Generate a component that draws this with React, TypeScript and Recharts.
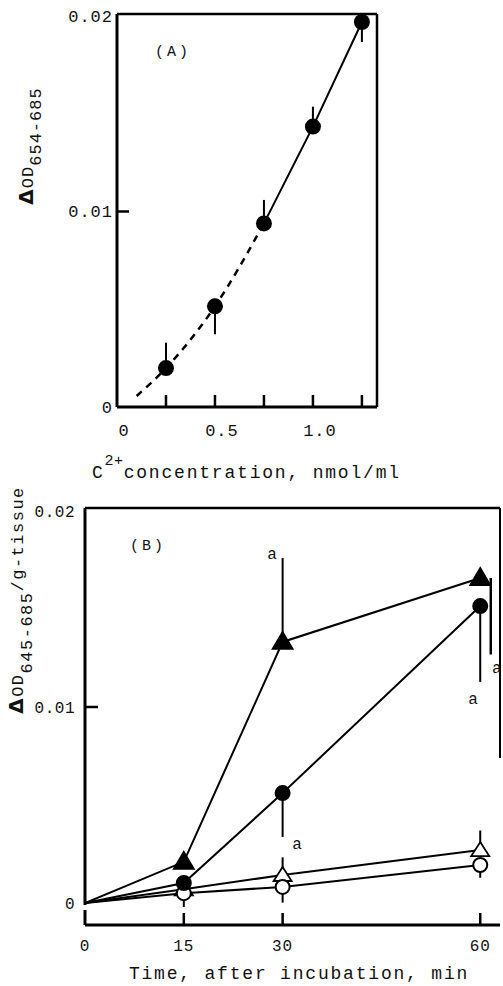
import React from 'react';
import { ComposedChart, Line, Scatter, XAxis, YAxis, ErrorBar, ReferenceLine, Label } from 'recharts';

const MONO = '"Liberation Mono", "DejaVu Sans Mono", monospace';
const INK = '#111';

// ---- panel (A): ΔOD vs concentration ----
const concA = [0.25, 0.5, 0.75, 1.0, 1.25];
const odA = [0.00199, 0.00515, 0.00939, 0.01434, 0.01969];
const errA = [[0, 0.0013], [0.00143, 0], [0, 0.0012], [0, 0.00102], [0.00102, 0]];
const fitStartA = { x: 0.1, y: 0.00056 };
const xTicksA = [0, 0.25, 0.5, 0.75, 1.0, 1.25];
const xTickLabelsA = ['0', '', '0.5', '', '1.0', ''];
const yTicksA = [0, 0.01, 0.02];
const yTickLabelsA = ['0', '0.01', '0.02'];

// ---- panel (B): ΔOD per g tissue vs time ----
const timeB = [0, 15, 30, 60];
const filledTri = [0, 0.0021, 0.01332, 0.01658];
const filledTriErr = [[0, 0], [0, 0], [0, 0.00428], [0, 0]];
const filledCirc = [0, 0.00102, 0.00561, 0.01515];
const filledCircErr = [[0, 0], [0, 0], [0.00224, 0], [0.00387, 0]];
const openTri = [0, 0.0007, 0.00143, 0.0027];
const openTriErr = [[0, 0], [0, 0], [0, 0.0009], [0, 0.001]];
const openCirc = [0, 0.0005, 0.00082, 0.00194];
const openCircErr = [[0, 0], [0.0007, 0], [0.0008, 0], [0.00065, 0]];
// error bar of the 60 min filled triangle, drawn beside the point
const filledTri60Err = [{ x: 61.6, y: 0.01658, err: [0.0039, 0] }];
const sigMarksB = [
  { x: 28.4, y: 0.01786, t: 'a' },
  { x: 32.2, y: 0.00306, t: 'a' },
  { x: 58.9, y: 0.01046, t: 'a' },
  { x: 62.5, y: 0.012, t: 'a' },
];
const xTicksB = [0, 15, 30, 60];
const yTicksB = [0, 0.01, 0.02];
const yTickLabelsB = ['0', '0.01', '0.02'];

const Y_MAX_A = 0.0201;
const X_MAX_A = 1.327;
const Y_MIN_B = -0.001122;
const Y_MAX_B = 0.020153;
const X_MAX_B = 63;

const rows = (xs: number[], ys: number[], errs?: number[][]) =>
  xs.map((x, i) => ({ x, y: ys[i], err: errs ? errs[i] : [0, 0] }));

const pointsA = rows(concA, odA, errA);
const dashedA = [fitStartA, ...pointsA.slice(0, 3)];
const solidA = pointsA.slice(2);

const txt = { style: { fontFamily: MONO }, fill: INK };

const XTickA = (p: any) => {
  const { x, y, index } = p;
  return (
    <g>
      {index > 0 && <line x1={x} y1={y} x2={x} y2={y - 12} stroke="#000" strokeWidth={2.5} />}
      <text x={x + 7} y={y + 29} textAnchor="middle" fontSize={17} letterSpacing={1} {...txt}>
        {xTickLabelsA[index]}
      </text>
    </g>
  );
};

const YTickA = (p: any) => {
  const { x, y, index } = p;
  return (
    <g>
      {index === 1 && <line x1={x} y1={y} x2={x + 12} y2={y} stroke="#000" strokeWidth={2.5} />}
      <text x={x - 4} y={y} dy="0.35em" textAnchor="end" fontSize={17} letterSpacing={1} {...txt}>
        {yTickLabelsA[index]}
      </text>
    </g>
  );
};

const XTickB = (p: any) => {
  const { x, y, index } = p;
  return (
    <g>
      <line x1={x} y1={y} x2={x} y2={y - (index === 0 ? 15 : 12)} stroke="#000" strokeWidth={index === 0 ? 3 : 2.5} />
      <text x={x} y={y + 26} textAnchor="middle" fontSize={16} letterSpacing={1} {...txt}>
        {xTicksB[index]}
      </text>
    </g>
  );
};

const YTickB = (p: any) => {
  const { x, y, index } = p;
  return (
    <g>
      {index === 1 && <line x1={x} y1={y} x2={x + 13} y2={y} stroke="#000" strokeWidth={2.5} />}
      <text x={x - 10} y={y} dy="0.35em" textAnchor="end" fontSize={16} letterSpacing={0.5} {...txt}>
        {yTickLabelsB[index]}
      </text>
    </g>
  );
};

const TitlesA = () => (
  <g>
    <text x={92} y={478} fontSize={18} letterSpacing={1.8} {...txt}>
      C<tspan dy={-13} fontSize={15} letterSpacing={0.5}>2+</tspan>
      <tspan dy={13}>concentration, nmol/ml</tspan>
    </text>
    <text x={155} y={56} fontSize={15} letterSpacing={3} {...txt}>(A)</text>
    <text transform="rotate(-90 33 146)" x={33} y={146} textAnchor="middle" fontSize={17} letterSpacing={1} {...txt}>
      <tspan style={{ fontFamily: 'DejaVu Sans' }} fontWeight="bold" fontSize={20}>Δ</tspan>
      <tspan>OD</tspan>
      <tspan dy={8}>654-685</tspan>
    </text>
  </g>
);

const TitlesB = () => (
  <g>
    <text x={299} y={979} textAnchor="middle" fontSize={18} letterSpacing={1.8} {...txt}>
      Time, after incubation, min
    </text>
    <text x={130} y={550} fontSize={15} letterSpacing={3} {...txt}>(B)</text>
    <text transform="rotate(-90 23 600)" x={23} y={600} textAnchor="middle" fontSize={17} letterSpacing={1.5} {...txt}>
      <tspan style={{ fontFamily: 'DejaVu Sans' }} fontWeight="bold" fontSize={20}>Δ</tspan>
      <tspan>OD</tspan>
      <tspan dy={9}>645-685</tspan>
      <tspan dy={-9}>/g-tissue</tspan>
    </text>
  </g>
);

const circleDot = (fill: string, r: number) => (p: any) => {
  const { cx, cy, index } = p;
  if (index === 0 || cx == null) return <g key={`c${index}`} />;
  return <circle key={`c${index}`} cx={cx} cy={cy} r={r} fill={fill} stroke="#000" strokeWidth={2} />;
};

const triDot = (fill: string, up: number, down: number, half: number) => (p: any) => {
  const { cx, cy, index } = p;
  if (index === 0 || cx == null) return <g key={`t${index}`} />;
  return (
    <path
      key={`t${index}`}
      d={`M${cx},${cy - up}L${cx + half},${cy + down}L${cx - half},${cy + down}Z`}
      fill={fill}
      stroke="#000"
      strokeWidth={1.8}
      strokeLinejoin="miter"
    />
  );
};

const seriesB = [
  { key: 'openTri', data: rows(timeB, openTri, openTriErr), dot: triDot('#fff', 8, 6, 9) },
  { key: 'openCirc', data: rows(timeB, openCirc, openCircErr), dot: circleDot('#fff', 7) },
  { key: 'filledCirc', data: rows(timeB, filledCirc, filledCircErr), dot: circleDot('#000', 7) },
  { key: 'filledTri', data: rows(timeB, filledTri, filledTriErr), dot: triDot('#000', 10, 7, 10) },
];

export default function App() {
  return (
    <div style={{ position: 'absolute', left: 0, top: 0, width: 503, height: 986, background: '#fff' }}>
      <div style={{ position: 'absolute', left: 0, top: 0 }}>
        <ComposedChart width={503} height={986} margin={{ top: 14, right: 126, bottom: 578, left: 116 }}>
          <XAxis
            dataKey="x"
            type="number"
            domain={[0, X_MAX_A]}
            allowDataOverflow
            ticks={xTicksA}
            interval={0}
            height={1}
            tickSize={0}
            tickMargin={0}
            tickLine={false}
            axisLine={{ stroke: '#000', strokeWidth: 3 }}
            tick={XTickA}
          >
            <Label content={TitlesA} />
          </XAxis>
          <YAxis
            dataKey="y"
            type="number"
            domain={[0, Y_MAX_A]}
            allowDataOverflow
            ticks={yTicksA}
            interval={0}
            width={1}
            tickSize={0}
            tickMargin={0}
            tickLine={false}
            axisLine={{ stroke: '#000', strokeWidth: 3 }}
            tick={YTickA}
          />
          <ReferenceLine y={Y_MAX_A} stroke="#000" strokeWidth={2.5} ifOverflow="visible" />
          <ReferenceLine x={X_MAX_A} stroke="#000" strokeWidth={2.5} ifOverflow="visible" />
          <Line
            data={dashedA}
            dataKey="y"
            type="monotone"
            stroke="#000"
            strokeWidth={2.5}
            strokeDasharray="7 6"
            dot={false}
            isAnimationActive={false}
          />
          <Line
            data={solidA}
            dataKey="y"
            type="linear"
            stroke="#000"
            strokeWidth={2}
            dot={false}
            isAnimationActive={false}
          />
          <Scatter
            data={pointsA}
            dataKey="y"
            isAnimationActive={false}
            shape={(p: any) => <circle cx={p.cx} cy={p.cy} r={8} fill="#000" />}
          >
            <ErrorBar dataKey="err" direction="y" width={0} stroke="#000" strokeWidth={2} />
          </Scatter>
        </ComposedChart>
      </div>
      <div style={{ position: 'absolute', left: 0, top: 0 }}>
        <ComposedChart width={503} height={986} margin={{ top: 508, right: 3, bottom: 60, left: 84 }}>
          <XAxis
            dataKey="x"
            type="number"
            domain={[0, X_MAX_B]}
            allowDataOverflow
            ticks={xTicksB}
            interval={0}
            height={1}
            tickSize={0}
            tickMargin={0}
            tickLine={false}
            axisLine={{ stroke: '#000', strokeWidth: 3 }}
            tick={XTickB}
          >
            <Label content={TitlesB} />
          </XAxis>
          <YAxis
            dataKey="y"
            type="number"
            domain={[Y_MIN_B, Y_MAX_B]}
            allowDataOverflow
            ticks={yTicksB}
            interval={0}
            width={1}
            tickSize={0}
            tickMargin={0}
            tickLine={false}
            axisLine={false}
            tick={YTickB}
          />
          <ReferenceLine
            segment={[{ x: 0, y: -0.0001 }, { x: 0, y: Y_MAX_B }]}
            stroke="#000"
            strokeWidth={3}
            ifOverflow="visible"
          />
          <ReferenceLine y={Y_MAX_B} stroke="#000" strokeWidth={2.5} ifOverflow="visible" />
          <ReferenceLine
            segment={[{ x: X_MAX_B, y: 0.0074 }, { x: X_MAX_B, y: Y_MAX_B }]}
            stroke="#000"
            strokeWidth={2}
            ifOverflow="visible"
          />
          {seriesB.map((s) => (
            <Line
              key={s.key}
              data={s.data}
              dataKey="y"
              type="linear"
              stroke="#000"
              strokeWidth={2}
              dot={s.dot}
              activeDot={false}
              isAnimationActive={false}
            >
              <ErrorBar dataKey="err" direction="y" width={0} stroke="#000" strokeWidth={2} />
            </Line>
          ))}
          <Scatter data={filledTri60Err} dataKey="y" isAnimationActive={false} shape={() => <g />}>
            <ErrorBar dataKey="err" direction="y" width={0} stroke="#000" strokeWidth={2.5} />
          </Scatter>
          <Scatter
            data={sigMarksB}
            dataKey="y"
            isAnimationActive={false}
            shape={(p: any) => (
              <text x={p.cx} y={p.cy} dy="0.35em" textAnchor="middle" fontSize={16} {...txt}>
                {p.payload.t}
              </text>
            )}
          />
        </ComposedChart>
      </div>
    </div>
  );
}
